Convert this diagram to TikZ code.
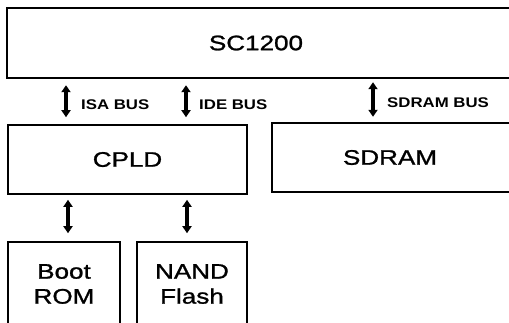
\documentclass[tikz,border=0pt]{standalone}
\usepackage{fontspec}
\setmainfont{Liberation Sans}
\newfontfamily\blockfont[FakeStretch=1.24,FakeBold=1.2]{Liberation Sans}
\newfontfamily\busfont[FakeStretch=1.2]{Liberation Sans Bold}
\usetikzlibrary{arrows.meta}
\begin{document}
\begin{tikzpicture}[x=1bp,y=-1bp,
  blocktext/.style={font=\blockfont\fontsize{21bp}{25bp}\selectfont, inner sep=0pt, align=center},
  boxline/.style={line width=1.6bp},
  box/.style={blocktext, draw, boxline},
  buslabel/.style={font=\busfont\fontsize{14bp}{16bp}\selectfont, inner sep=0pt, anchor=west},
  bus/.style={line width=3.4bp, {Triangle[width=9bp,length=7bp]}-{Triangle[width=9bp,length=7bp]}}]
\useasboundingbox (0,0) rectangle (509,322);
% blocks
\node[blocktext, minimum width=498bp, minimum height=70bp] (sc) at (256,43) {SC1200};
\draw[boxline] ([xshift=12bp]sc.north east) -- (sc.north west) -- (sc.south west) -- ([xshift=12bp]sc.south east);
\node[box, minimum width=239bp, minimum height=69bp] (cpld) at (127.5,159.5) {CPLD};
\node[blocktext, minimum width=236bp, minimum height=69bp] (sdram) at (390,157.5) {SDRAM};
\draw[boxline] ([xshift=12bp]sdram.north east) -- (sdram.north west) -- (sdram.south west) -- ([xshift=12bp]sdram.south east);
\node[box, minimum width=112bp, minimum height=84bp] (boot) at (64,284) {Boot\\ROM};
\node[box, minimum width=110bp, minimum height=84bp] (nand) at (192,284) {NAND\\Flash};
% bus arrows
\coordinate (isaX) at (66,0);
\coordinate (ideX) at (186,0);
\coordinate (sdX) at (373,0);
\coordinate (bootX) at (68,0);
\coordinate (nandX) at (187,0);
\draw[bus, shorten <=7bp, shorten >=7bp] (sc.south -| isaX) -- (cpld.north -| isaX);
\draw[bus, shorten <=7bp, shorten >=7bp] (sc.south -| ideX) -- (cpld.north -| ideX);
\draw[bus, shorten <=4bp, shorten >=6bp] (sc.south -| sdX) -- (sdram.north -| sdX);
\draw[bus, shorten <=5bp, shorten >=8bp] (cpld.south -| bootX) -- (boot.north -| bootX);
\draw[bus, shorten <=5bp, shorten >=8bp] (cpld.south -| nandX) -- (nand.north -| nandX);
% labels
\node[buslabel] (isalbl) at (81,105) {ISA BUS};
\node[buslabel] (idelbl) at (199,105) {IDE BUS};
\node[buslabel] (sdlbl) at (387,103) {SDRAM BUS};
\end{tikzpicture}
\end{document}
